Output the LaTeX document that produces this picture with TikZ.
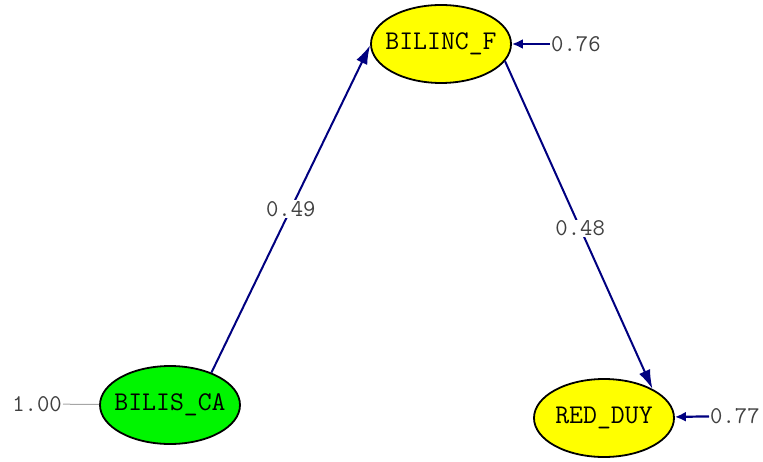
\documentclass[tikz,border=0pt]{standalone}
\usepackage{fontspec}
\usepackage{xcolor}
\usetikzlibrary{arrows.meta,positioning,shapes.geometric}

\definecolor{pathblue}{RGB}{0,0,128}
\definecolor{latgreen}{RGB}{0,245,0}
\definecolor{latyellow}{RGB}{255,255,0}

\begin{document}
\begin{tikzpicture}[x=1pt,y=1pt]

\useasboundingbox (0,0) rectangle (763,461);

\tikzstyle{latent} = [ellipse, draw=black, line width=1.8pt, minimum width=140pt, minimum height=78pt, inner xsep=-12pt, inner ysep=0pt, text=black, font=\ttfamily\fontsize{27}{27}\selectfont]
\tikzstyle{coef} = [text=black!75, inner sep=1pt, font=\ttfamily\fontsize{24}{24}\selectfont]
\tikzstyle{path} = [pathblue, line width=2pt, -{Latex[length=19pt,width=12pt]}]
\tikzstyle{errpath} = [pathblue, line width=2.2pt, -{Latex[length=11pt,width=10pt]}]

% latent variables
\node (bilinc) [latent,fill=latyellow] at (441,417) {BILINC\_F};
\node (bilisca) [latent,fill=latgreen] at (170,56) {BILIS\_CA};
\node (reddy) [latent,fill=latyellow] at (604,43) {RED\_DUY};

% error terms and fixed variance
\node (errinc) [coef,anchor=west] at (550,417) {0.76};
\draw [errpath] (errinc) -- (bilinc);
\node (errred) [coef,anchor=west] at (709,45) {0.77};
\draw [errpath] (errred) -- (reddy);
\node (varca) [coef,anchor=east] at (63,57) {1.00};
\draw [gray!70,line width=1pt] (varca) -- (bilisca);

% structural paths
\draw [path] (bilisca.38) -- (bilinc.181) node [coef,fill=white,pos=0.5] {0.49};
\draw [path] (bilinc.-15) -- (reddy.31) node [coef,fill=white,pos=0.51] {0.48};

\end{tikzpicture}
\end{document}
